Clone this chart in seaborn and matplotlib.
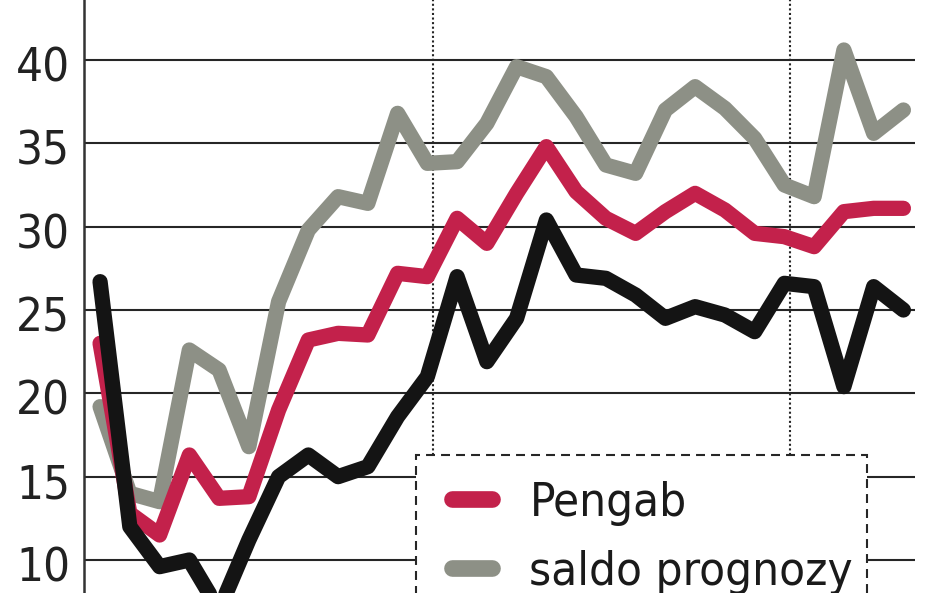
import numpy as np
import pandas as pd
import matplotlib
matplotlib.use("Agg")
import matplotlib.pyplot as plt
import matplotlib.transforms as mtransforms
from matplotlib import font_manager
from matplotlib.lines import Line2D
from matplotlib.patches import Rectangle
import seaborn as sns

# ── Data (monthly readings) ───────────────────────────────────────────────────
black_series = [26.7, 12.0, 9.6, 10.0, 7.0, 11.2, 15.0, 16.3, 15.0, 15.6,
                18.6, 21.0, 27.0, 21.9, 24.5, 30.4, 27.1, 26.9, 25.9, 24.5,
                25.2, 24.7, 23.7, 26.6, 26.4, 20.4, 26.4, 25.0]
pengab = [23.0, 12.8, 11.5, 16.3, 13.7, 13.8, 19.0, 23.2, 23.6, 23.5,
          27.2, 27.0, 30.5, 29.0, 32.0, 34.8, 32.1, 30.5, 29.6, 30.9,
          32.0, 31.0, 29.6, 29.4, 28.8, 30.9, 31.1, 31.1]
saldo_prognozy = [19.2, 14.0, 13.5, 22.6, 21.4, 16.8, 25.5, 29.8, 31.8, 31.4,
                  36.8, 33.8, 33.9, 36.2, 39.6, 39.0, 36.6, 33.7, 33.2, 37.0,
                  38.4, 37.1, 35.3, 32.5, 31.8, 40.6, 35.6, 37.0]
y_ticks = [10, 15, 20, 25, 30, 35, 40, 45]
legend_labels = ["Pengab", "saldo prognozy"]

# ── Style ──────────────────────────────────────────────────────────────────────
COLORS = {
    "black": "#141414",
    "red": "#C3214B",
    "gray": "#8D9086",
    "ink": "#262626",
}

sns.set_style("white")
plt.rcParams["font.family"] = ["Liberation Sans", "DejaVu Sans"]

# look for a narrow face, the original uses a condensed grotesk
narrow = None
for fam in ["Liberation Sans Narrow", "Noto Sans", "Open Sans", "Roboto",
            "DejaVu Sans", "Lato", "Inter"]:
    for f in font_manager.fontManager.ttflist:
        if (f.name == fam and f.style == "normal"
                and f.weight in (400, "normal", "regular")
                and ("ondensed" in str(f.stretch) or "Narrow" in f.name)):
            narrow = f.fname
            break
    if narrow:
        break

if narrow:
    tick_font = font_manager.FontProperties(fname=narrow, size=34)
    legend_font = font_manager.FontProperties(fname=narrow, size=34)
else:
    tick_font = font_manager.FontProperties(family="Liberation Sans", size=33)
    legend_font = font_manager.FontProperties(family="Liberation Sans", size=31)

df = pd.DataFrame({
    "month": np.arange(len(pengab)),
    "black": black_series,
    "Pengab": pengab,
    "saldo prognozy": saldo_prognozy,
})

fig = plt.figure(figsize=(9.48, 5.93), dpi=100)
ax = fig.add_axes([84 / 948, 0, (915 - 84) / 948, 633 / 593])

line_kw = dict(linewidth=11, solid_capstyle="round", solid_joinstyle="round")
sns.lineplot(data=df, x="month", y="saldo prognozy", color=COLORS["gray"],
             ax=ax, zorder=3, **line_kw)
sns.lineplot(data=df, x="month", y="Pengab", color=COLORS["red"],
             ax=ax, zorder=4, **line_kw)
sns.lineplot(data=df, x="month", y="black", color=COLORS["black"],
             ax=ax, zorder=5, **line_kw)

ax.set_xlim(-0.54, 27.39)
ax.set_ylim(8.02, 46.0)
ax.set_yticks(y_ticks)
ax.set_xticks([])
ax.set_xlabel("")
ax.set_ylabel("")

for side in ["top", "right", "bottom"]:
    ax.spines[side].set_visible(False)
ax.spines["left"].set_color("#333333")
ax.spines["left"].set_linewidth(1.8)

ax.grid(axis="y", color=COLORS["ink"], linewidth=1.5)
ax.set_axisbelow(True)
ax.tick_params(axis="y", length=0, pad=10, labelcolor="#222222")
shift = mtransforms.ScaledTranslation(0, -4 / 100, fig.dpi_scale_trans)
for lab in ax.get_yticklabels():
    lab.set_fontproperties(tick_font)
    lab.set_transform(lab.get_transform() + shift)

# dotted year separators and dashed legend frame
ax.vlines([11.19, 23.19], 16.3, 46, colors=COLORS["ink"], linewidth=1.5,
          linestyles=(0, (1, 1.2)), zorder=2.5)
ax.add_patch(Rectangle((10.62, 0), 15.16, 16.3, facecolor="white",
                       edgecolor=COLORS["ink"], linewidth=1.5,
                       linestyle=(0, (4.3, 2.9)), zorder=2.6))

handles = [Line2D([], [], color=COLORS["red"], linewidth=12, solid_capstyle="round"),
           Line2D([], [], color=COLORS["gray"], linewidth=12, solid_capstyle="round")]
ax.legend(handles, legend_labels, loc="upper left",
          bbox_to_anchor=(452 / 948, 1 - 481 / 593), bbox_transform=fig.transFigure,
          frameon=False, prop=legend_font, handlelength=0.85, handletextpad=0.79,
          labelspacing=0.5, borderpad=0, borderaxespad=0, labelcolor="#1a1a1a")

fig.savefig("out.png", dpi=100)
plt.close(fig)
